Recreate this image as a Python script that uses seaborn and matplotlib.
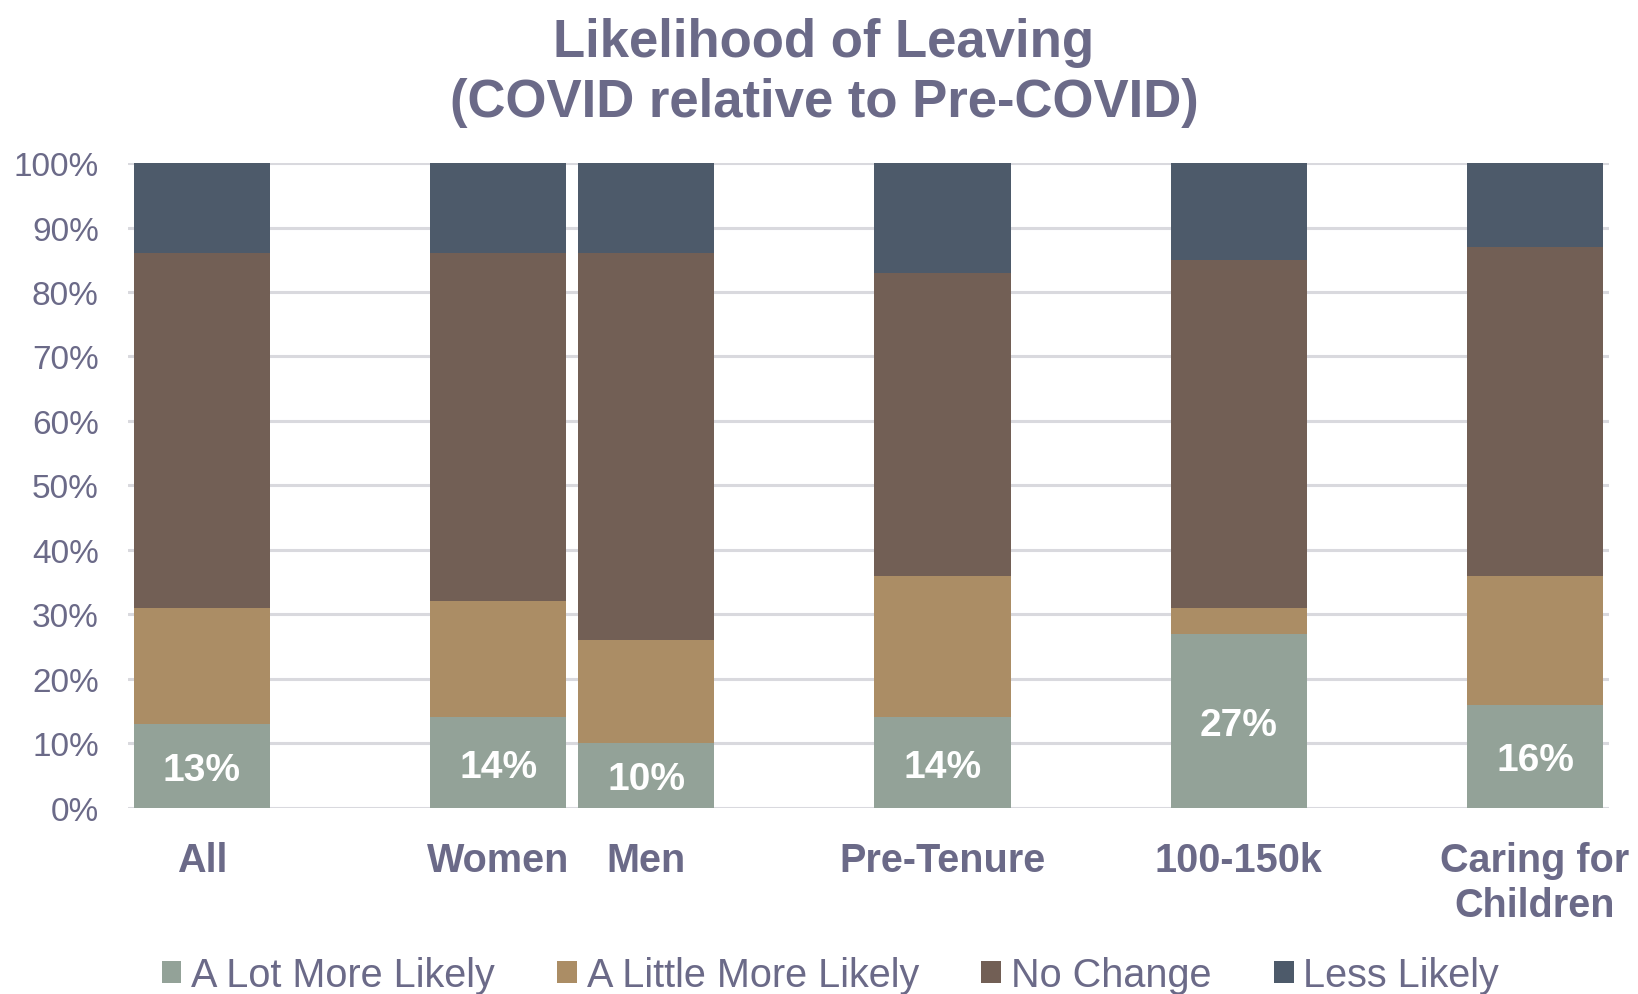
import matplotlib
matplotlib.use("Agg")
import matplotlib.pyplot as plt
from matplotlib.patches import Patch
import numpy as np
import pandas as pd
import seaborn as sns

# Survey groups (None marks an empty slot between groups)
slots = ["All", None, "Women", "Men", None, "Pre-Tenure", None, "100-150k", None, "Caring for\nChildren"]
groups = ["All", "Women", "Men", "Pre-Tenure", "100-150k", "Caring for\nChildren"]

# Share of respondents per response, in percent
a_lot_more = [13, 14, 10, 14, 27, 16]
a_little_more = [18, 18, 16, 22, 4, 20]
no_change = [55, 54, 60, 47, 54, 51]
less_likely = [14, 14, 14, 17, 15, 13]

series_names = ["A Lot More Likely", "A Little More Likely", "No Change", "Less Likely"]
series_colors = ["#93A298", "#AB8D65", "#725F55", "#4D5A6A"]
text_color = "#6B6A88"

sns.set_theme(style="white")
plt.rcParams["font.family"] = ["Liberation Sans", "DejaVu Sans"]

order = [s if s is not None else f"_gap{i}" for i, s in enumerate(slots)]

df = pd.DataFrame({
    "group": groups,
    "lot": a_lot_more,
    "little": a_little_more,
    "nochange": no_change,
    "less": less_likely,
})
# cumulative tops, drawn from the tallest layer down so they stack visually
df["c_lot"] = df["lot"]
df["c_little"] = df["c_lot"] + df["little"]
df["c_nochange"] = df["c_little"] + df["nochange"]
df["c_less"] = df["c_nochange"] + df["less"]

fig = plt.figure(figsize=(16.38, 9.95), dpi=100)
ax = fig.add_axes([0.0781, 0.1873, 0.9042, 0.6478])

layers = ["c_less", "c_nochange", "c_little", "c_lot"]
colors_top_down = series_colors[::-1]
for col, colr in zip(layers, colors_top_down):
    sns.barplot(data=df, x="group", y=col, order=order, color=colr,
                width=0.92, errorbar=None, saturation=1, linewidth=0,
                ax=ax, zorder=3)

ax.set_xlim(-0.5, 9.5)
ax.set_ylim(0, 100)
ax.set_yticks(np.arange(0, 101, 10))
ax.set_yticklabels([f"{v}%" for v in range(0, 101, 10)])
ax.yaxis.grid(True, color="#D9D9DE", linewidth=2.2, zorder=0)
ax.xaxis.grid(False)
for sp in ax.spines.values():
    sp.set_visible(False)

ax.set_xticks(range(len(slots)))
ax.set_xticklabels([s if s is not None else "" for s in slots],
                   fontsize=28.5, fontweight="bold", color=text_color,
                   linespacing=1.24)
ax.tick_params(axis="x", length=0, pad=24)
ax.tick_params(axis="y", length=0, pad=21, labelsize=24, labelcolor=text_color)
ax.set_xlabel("")
ax.set_ylabel("")

# value labels on the bottom segment
for g, v in zip(groups, a_lot_more):
    xpos = order.index(g)
    ax.text(xpos, v / 2, f"{v}%", ha="center", va="center_baseline",
            color="white", fontsize=28, fontweight="bold", zorder=5)

fig.text(0.503, 0.9266, "Likelihood of Leaving\n(COVID relative to Pre-COVID)",
         ha="center", va="center", fontsize=38, fontweight="bold",
         color=text_color, linespacing=1.27)

handles = [Patch(facecolor=c, edgecolor="none") for c in series_colors]
fig.legend(handles, series_names, loc="center", bbox_to_anchor=(0.507, 0.019),
           ncol=4, frameon=False, fontsize=28.5, labelcolor=text_color,
           handlelength=0.5, handleheight=0.5, handletextpad=0.25,
           columnspacing=1.57, borderaxespad=0)

fig.savefig("out.png", dpi=100)
